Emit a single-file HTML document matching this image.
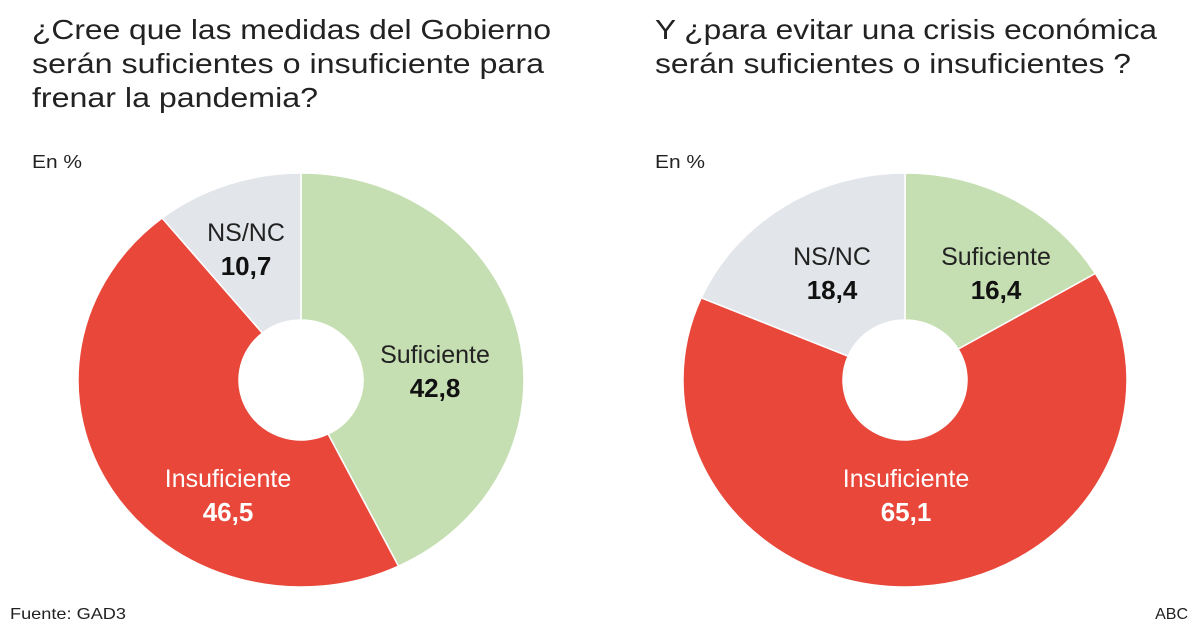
<!DOCTYPE html>
<html><head><meta charset="utf-8"><style>
html,body{margin:0;padding:0;background:#fff;}
svg{display:block;font-family:"Liberation Sans","DejaVu Sans",sans-serif;}
</style></head><body>
<svg id="s" width="1200" height="630" viewBox="0 0 1200 630" xmlns="http://www.w3.org/2000/svg">
<g font-size="28" fill="#222" lengthAdjust="spacingAndGlyphs">
<text x="32" y="39" textLength="519" lengthAdjust="spacingAndGlyphs">¿Cree que las medidas del Gobierno</text>
<text x="32" y="73" textLength="512" lengthAdjust="spacingAndGlyphs">serán suficientes o insuficiente para</text>
<text x="32" y="107" textLength="286" lengthAdjust="spacingAndGlyphs">frenar la pandemia?</text>
<text x="655" y="39" textLength="502" lengthAdjust="spacingAndGlyphs">Y ¿para evitar una crisis económica</text>
<text x="655" y="73" textLength="476" lengthAdjust="spacingAndGlyphs">serán suficientes o insuficientes ?</text>
</g>
<text x="32" y="168" font-size="18" fill="#222" textLength="50" lengthAdjust="spacingAndGlyphs">En %</text>
<text x="655" y="168" font-size="18" fill="#222" textLength="50" lengthAdjust="spacingAndGlyphs">En %</text>
<g id="d1"></g><g id="d2"></g>
<g font-size="25" text-anchor="middle">
<text x="246" y="241" fill="#222">NS/NC</text>
<text x="246" y="275" fill="#111" font-weight="bold" font-size="26">10,7</text>
<text x="435" y="363" fill="#222">Suficiente</text>
<text x="435" y="397" fill="#111" font-weight="bold" font-size="26">42,8</text>
<text x="228" y="487" fill="#fff">Insuficiente</text>
<text x="228" y="521" fill="#fff" font-weight="bold" font-size="26">46,5</text>
<text x="832" y="265" fill="#222">NS/NC</text>
<text x="832" y="299" fill="#111" font-weight="bold" font-size="26">18,4</text>
<text x="996" y="265" fill="#222">Suficiente</text>
<text x="996" y="299" fill="#111" font-weight="bold" font-size="26">16,4</text>
<text x="906" y="487" fill="#fff">Insuficiente</text>
<text x="906" y="521" fill="#fff" font-weight="bold" font-size="26">65,1</text>
</g>
<text x="10" y="619" font-size="16" fill="#222" textLength="116" lengthAdjust="spacingAndGlyphs">Fuente: GAD3</text>
<text x="1188" y="619" font-size="16" fill="#222" text-anchor="end">ABC</text>
</svg>
<script>
function donut(id,cx,cy,rx,ry,irx,iry,vals,cols){
 var g=document.getElementById(id),a0=0,ns="http://www.w3.org/2000/svg";
 function pt(a,r1,r2){return [cx+r1*Math.sin(a),cy-r2*Math.cos(a)];}
 vals.forEach(function(v,i){
  var a1=a0+v/100*2*Math.PI,l=(a1-a0)>Math.PI?1:0;
  var p0=pt(a0,rx,ry),p1=pt(a1,rx,ry),q1=pt(a1,irx,iry),q0=pt(a0,irx,iry);
  var d="M"+p0+" A"+rx+","+ry+" 0 "+l+" 1 "+p1+" L"+q1+" A"+irx+","+iry+" 0 "+l+" 0 "+q0+" Z";
  var p=document.createElementNS(ns,"path");p.setAttribute("d",d);p.setAttribute("fill",cols[i]);
  p.setAttribute("stroke","#fff");p.setAttribute("stroke-width","1.5");g.appendChild(p);a0=a1;
 });
}
var c=["#c6dfb2","#e8473a","#e2e5ea"];
donut("d1",301,380,223,207,62,60,[42.8,46.5,10.7],c);
donut("d2",905,380,222,207,62,60,[16.4,65.1,18.5],c);
</script>
</body></html>
